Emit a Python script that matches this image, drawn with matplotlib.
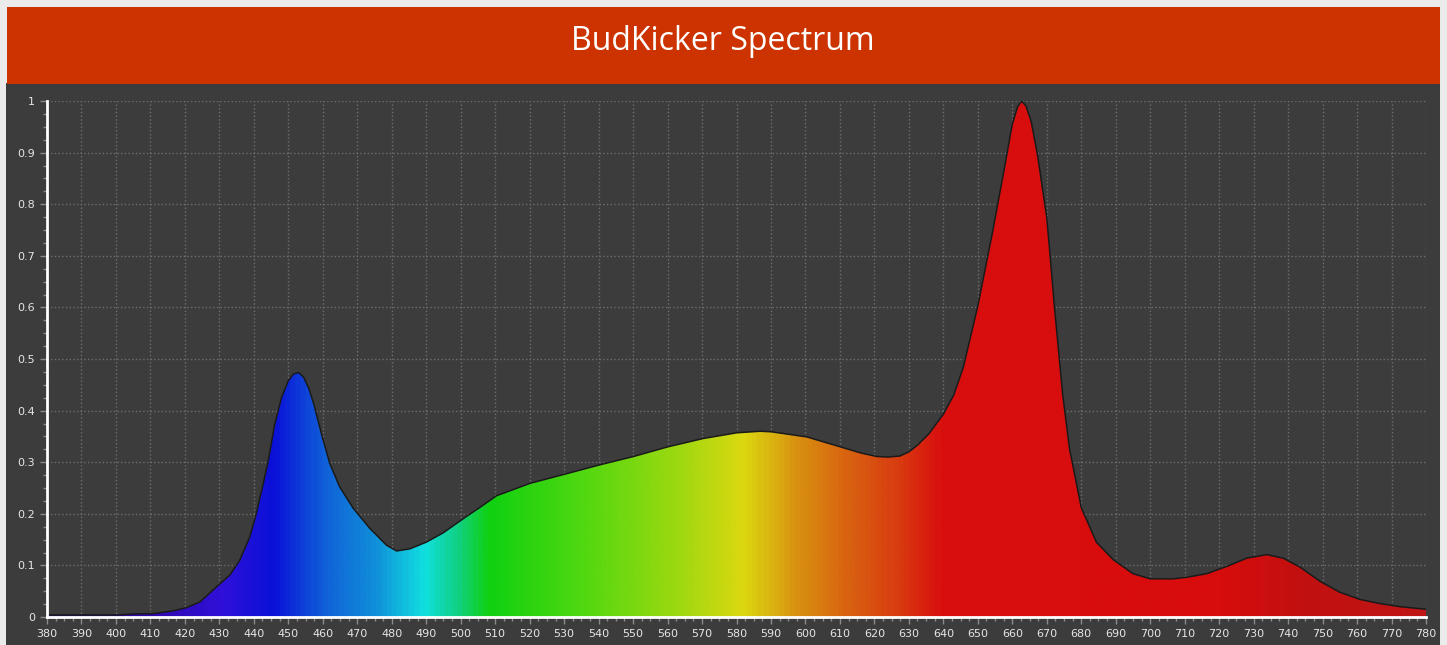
import numpy as np
import matplotlib.pyplot as plt
from matplotlib.colors import LinearSegmentedColormap, to_rgb
from matplotlib.patches import Rectangle
from matplotlib.ticker import MultipleLocator, FuncFormatter

# spectrum (wavelength nm, relative intensity)
wavelength = [380, 390, 400, 403, 405, 410.8, 416.6, 420.4, 424.3, 429.1, 433, 435.9,
              438.8, 440.7, 442.7, 444.1, 446, 448, 450, 451.5, 453, 454.5, 456, 457.5,
              459.6, 462, 464.9, 468.8, 473.6, 478.5, 481.4, 485.2, 490, 494.9, 501.7,
              505.5, 510.4, 520.1, 530.3, 540.4, 550.1, 560.2, 570.4, 580.1, 586.8, 590,
              600.4, 610, 616, 620.7, 624, 627.4, 630, 632.5, 635.8, 640, 643, 645.8,
              650, 654.3, 657.6, 660, 661.5, 662.7, 664, 665.5, 667.4, 670, 671, 672.2,
              674.6, 676.6, 680, 684.4, 689.3, 695, 700, 706.7, 710.6, 716.4, 722.2,
              728, 733.8, 738.6, 743.4, 749.3, 755, 760.9, 766.7, 772.5, 780]
intensity = [0.004, 0.004, 0.004, 0.005, 0.006, 0.0065, 0.012, 0.018, 0.029, 0.058, 0.081, 0.11,
             0.155, 0.2, 0.258, 0.3, 0.372, 0.425, 0.458, 0.471, 0.474, 0.464, 0.442, 0.41,
             0.355, 0.298, 0.252, 0.211, 0.172, 0.139, 0.128, 0.132, 0.145, 0.163, 0.195,
             0.212, 0.235, 0.259, 0.277, 0.295, 0.311, 0.330, 0.346, 0.357, 0.360, 0.359,
             0.349, 0.330, 0.318, 0.311, 0.310, 0.312, 0.320, 0.333, 0.355, 0.393, 0.43, 0.484,
             0.603, 0.747, 0.866, 0.955, 0.988, 1.0, 0.99, 0.96, 0.892, 0.774, 0.698, 0.603,
             0.432, 0.326, 0.212, 0.145, 0.111, 0.084, 0.074, 0.074, 0.077, 0.084, 0.098,
             0.114, 0.121, 0.114, 0.097, 0.069, 0.048, 0.034, 0.026, 0.020, 0.015]

# colour stops of the fill gradient
color_nm = [380, 410, 430, 445, 460, 475, 489, 499, 508, 535, 564, 582, 598, 613, 627, 640, 720, 745, 780]
color_hex = ['#2c0878', '#3008b0', '#3010d8', '#0a10d8', '#1060d8', '#1090d8', '#10e0e0', '#10d080',
             '#10d010', '#50d810', '#a0d810', '#dcd810', '#d89010', '#d86010', '#d83c10', '#d80e0e',
             '#d80c0c', '#c21010', '#c01616']

BG = '#ebebeb'
PANEL = '#3c3c3c'

fig = plt.figure(figsize=(14.47, 6.45), dpi=100, facecolor=BG)
W, H = 1447, 645

# title banner and dark panel
fig.patches.append(Rectangle((6 / W, 0), 1434 / W, 1 - 83 / H, transform=fig.transFigure,
                             facecolor=PANEL, edgecolor='none', zorder=-5))
fig.patches.append(Rectangle((7 / W, 1 - 84 / H), 1433 / W, 77 / H, transform=fig.transFigure,
                             facecolor='#cc3300', edgecolor='none', zorder=-4))
fig.text(723 / W, 1 - 42 / H, 'BudKicker Spectrum', color='white', fontsize=23,
         family='Open Sans', ha='center', va='center')

ax = fig.add_axes([47 / W, 28 / H, 1379 / W, 516 / H])
ax.set_facecolor(PANEL)

x = np.array(wavelength)
y = np.array(intensity)

stops = [(n - 380) / 400 for n in color_nm]
cmap = LinearSegmentedColormap.from_list('spec', list(zip(stops, [to_rgb(c) for c in color_hex])))
grad = np.linspace(0, 1, 800).reshape(1, -1)
poly = ax.fill_between(x, y, 0, facecolor='none', edgecolor='none')
img = ax.imshow(grad, cmap=cmap, extent=[380, 780, 0, 1], aspect='auto', zorder=2, interpolation='bilinear')
img.set_clip_path(poly.get_paths()[0], transform=ax.transData)
ax.plot(x, y, color='#1a1a1a', lw=1.1, zorder=3)

ax.set_xlim(380, 780)
ax.set_ylim(0, 1)
ax.xaxis.set_major_locator(MultipleLocator(10))
ax.xaxis.set_minor_locator(MultipleLocator(2.5))
ax.yaxis.set_major_locator(MultipleLocator(0.1))
ax.yaxis.set_minor_locator(MultipleLocator(0.025))
ax.yaxis.set_major_formatter(FuncFormatter(lambda v, p: ('%.1f' % v).rstrip('0').rstrip('.')))

ax.grid(True, which='major', color='#6e6e6e', linestyle=':', linewidth=1.0, zorder=1)
ax.set_axisbelow(True)

for s in ['top', 'right']:
    ax.spines[s].set_visible(False)
for s in ['left', 'bottom']:
    ax.spines[s].set_color('white')
    ax.spines[s].set_linewidth(2)
    ax.spines[s].set_zorder(4)

ax.tick_params(which='major', colors='#8a8a8a', labelcolor='#e6e6e6', labelsize=8, length=5, width=1)
ax.tick_params(which='minor', colors='#8a8a8a', length=3, width=1)

fig.savefig('out.png', dpi=100, facecolor=BG)
